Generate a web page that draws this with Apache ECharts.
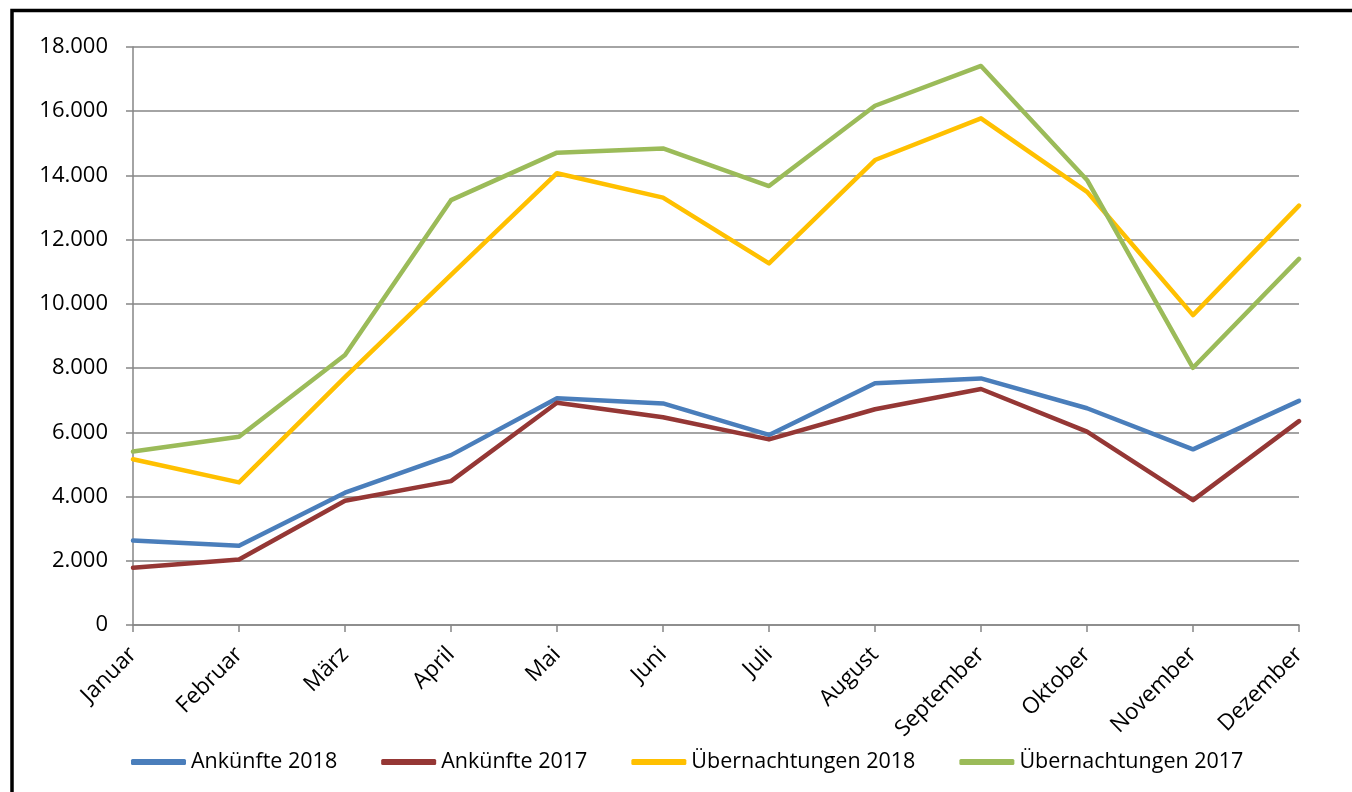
<!DOCTYPE html>
<html>
<head>
<meta charset="utf-8">
<script src="https://cdn.jsdelivr.net/npm/echarts@6/dist/echarts.min.js"></script>
<style>
html,body{margin:0;padding:0;background:#fff;}
#chart{width:1352px;height:792px;}
</style>
</head>
<body>
<div id="chart"></div>
<script>
const months = ['Januar','Februar','März','April','Mai','Juni','Juli','August','September','Oktober','November','Dezember'];
const seriesNames = ['Ankünfte 2018','Ankünfte 2017','Übernachtungen 2018','Übernachtungen 2017'];
const ankuenfte2018 = [2630, 2470, 4120, 5290, 7060, 6900, 5920, 7530, 7680, 6750, 5470, 6980];
const ankuenfte2017 = [1780, 2040, 3870, 4480, 6920, 6470, 5780, 6720, 7350, 6020, 3890, 6350];
const uebernachtungen2018 = [5160, 4440, 7720, 10900, 14070, 13310, 11260, 14480, 15780, 13490, 9650, 13060];
const uebernachtungen2017 = [5400, 5860, 8410, 13230, 14710, 14840, 13670, 16170, 17410, 13860, 8010, 11400];
const yMin = 0, yMax = 18000, yStep = 2000;

const colors = ['#4A7EBB', '#953735', '#FFC000', '#9BBB59'];
const dataSets = [ankuenfte2018, ankuenfte2017, uebernachtungen2018, uebernachtungen2017];
const font = "'Open Sans', 'Noto Sans', sans-serif";
function fmt(v){ return String(v).replace(/\B(?=(\d{3})+(?!\d))/g, '.'); }

const chart = echarts.init(document.getElementById('chart'), null, {renderer:'canvas'});
chart.setOption({
  backgroundColor: '#ffffff',
  animation: false,
  graphic: [{
    type: 'rect',
    shape: {x: 12, y: 10.5, width: 2000, height: 2000},
    style: {fill: 'none', stroke: '#000', lineWidth: 3.5},
    silent: true, z: 100
  }],
  grid: {left: 133, right: 53, top: 47, bottom: 167, containLabel: false},
  legend: {
    left: 131, top: 751, padding: 0,
    itemWidth: 55, itemHeight: 6, itemGap: 44,
    icon: 'roundRect',
    textStyle: {fontFamily: font, fontSize: 21.5, color: '#000'},
    data: seriesNames
  },
  xAxis: {
    type: 'category', data: months, boundaryGap: false,
    axisLine: {show: true, lineStyle: {color: '#868686', width: 1.5}},
    axisTick: {show: true, alignWithLabel: true, length: 7, inside: false, lineStyle: {color: '#868686', width: 1.5}},
    axisLabel: {rotate: 45, margin: 26, fontFamily: font, fontSize: 22.5, color: '#000', interval: 0}
  },
  yAxis: {
    type: 'value', min: yMin, max: yMax, interval: yStep,
    axisLine: {show: true, lineStyle: {color: '#868686', width: 1.5}},
    axisTick: {show: true, length: 7, lineStyle: {color: '#868686', width: 1.5}},
    splitLine: {show: true, lineStyle: {color: '#868686', width: 1.5}},
    axisLabel: {margin: 25, fontFamily: font, fontSize: 22, color: '#000', formatter: fmt}
  },
  series: seriesNames.map((n, i) => ({
    name: n, type: 'line', data: dataSets[i],
    symbol: 'none', smooth: false,
    lineStyle: {color: colors[i], width: 4.5, cap: 'round', join: 'round'},
    itemStyle: {color: colors[i]}
  }))
});
</script>
</body>
</html>
